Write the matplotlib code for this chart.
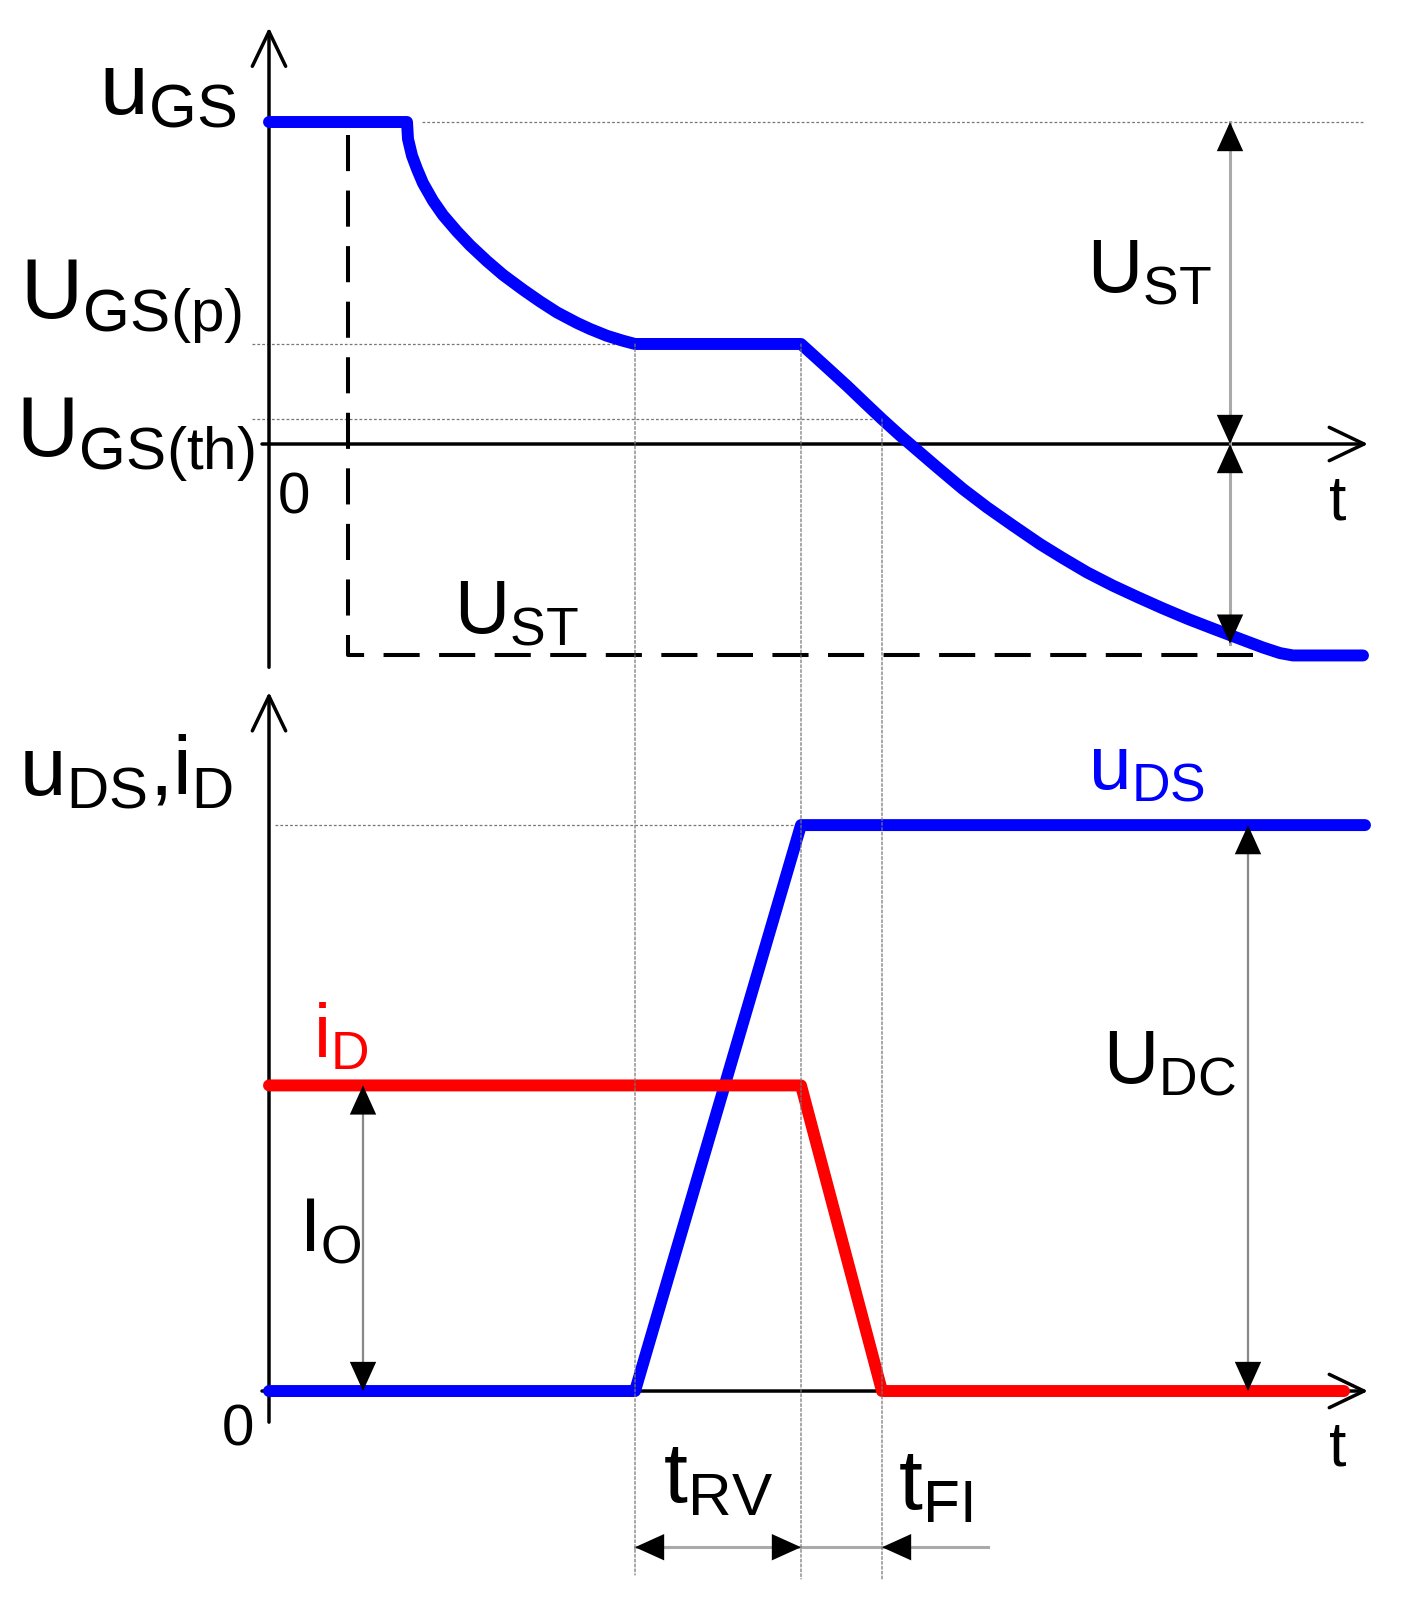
import matplotlib
matplotlib.use("Agg")
import matplotlib.pyplot as plt
from matplotlib.patches import ConnectionPatch

plt.rcParams['font.family'] = 'Liberation Sans'
plt.rcParams['mathtext.fontset'] = 'custom'
plt.rcParams['mathtext.rm'] = 'Liberation Sans'
plt.rcParams['mathtext.it'] = 'Liberation Sans'
plt.rcParams['mathtext.default'] = 'regular'
plt.rcParams['lines.scale_dashes'] = False

# key times (arbitrary units) and levels
t_step = 7.9      # gate command steps down
t_rv0 = 36.6      # start of plateau / voltage rise
t_rv1 = 53.2      # end of plateau / current fall starts
t_fi1 = 61.3      # current reaches zero (uGS = UGS(th))
t_end = 109.9

U_high = 15.0
U_p = 4.66
U_th = 1.16
U_low = -9.85

# gate-source voltage
t_gs = [0, 13.8, 13.9, 14.3, 14.8, 15.4, 16.4, 17.4, 18.8, 20.1, 21.8, 23.4,
        25.4, 27.1, 28.8, 30.8, 32.1, 33.8, 35.4, 36.6,
        53.2, 55.4, 57.8, 59.8, 61.3, 63.1, 64.4, 66.8, 69.4, 71.8, 74.4,
        77.1, 79.4, 81.8, 84.4, 86.9, 89.4, 91.9, 94.4, 96.1, 97.8, 99.4,
        101.1, 102.4, 109.4]
u_gs = [15.0, 15.0, 14.21, 13.43, 12.81, 12.15, 11.33, 10.66, 9.90, 9.26,
        8.52, 7.88, 7.19, 6.64, 6.13, 5.64, 5.36, 5.04, 4.81, 4.66,
        4.66, 3.73, 2.71, 1.82, 1.16, 0.40, -0.12, -1.08, -2.10, -2.95, -3.80,
        -4.66, -5.32, -5.98, -6.60, -7.14, -7.66, -8.15, -8.60, -8.90, -9.20,
        -9.48, -9.74, -9.85, -9.85]

# drain-source voltage and drain current
U_DC = 100
I_O = 54
t_ds = [0, 36.6, 53.2, 109.6]
u_ds = [0, 0, 100, 100]
t_d = [0, 53.2, 61.3, 107.5]
i_d = [54, 54, 0, 0]

fig = plt.figure(figsize=(14.02, 16.15), dpi=100)
ax1 = fig.add_axes([0, 0.5789, 1, 0.4211])
ax2 = fig.add_axes([0, 0, 1, 0.5789])
ax1.set_xlim(-26.9, 113.3)
ax1.set_ylim(-10.95, 20.73)
ax2.set_xlim(-26.9, 113.3)
ax2.set_ylim(-39.4, 125.8)
for a in (ax1, ax2):
    a.set_axis_off()

dot = dict(color='#777777', lw=0.9, ls=(0, (2, 1.5)), zorder=1)
blue = '#0000ff'
red = '#ff0000'


def axis_arrow(ax, p0, p1):
    ax.annotate('', xy=p1, xytext=p0,
                arrowprops=dict(arrowstyle='->,head_length=25,head_width=12',
                                mutation_scale=1, lw=2.5, color='k',
                                shrinkA=0, shrinkB=0), zorder=2)


def head(ax, tip, tail):
    ax.annotate('', xy=tip, xytext=tail,
                arrowprops=dict(arrowstyle='-|>,head_length=21,head_width=9.5',
                                mutation_scale=1, lw=0, color='k',
                                shrinkA=0, shrinkB=0), zorder=5)


# ---------------- top: uGS ----------------
ax1.plot([15.3, 109.6], [U_high, U_high], **dot)
ax1.plot([-1.7, t_rv0], [U_p, U_p], **dot)
ax1.plot([-1.7, t_fi1], [U_th, U_th], **dot)

ax1.plot([t_step, t_step, 102.0], [14.4, U_low, U_low], color='k', lw=2.9,
         ls=(0, (26, 14)), zorder=1.5)

axis_arrow(ax1, (0, -10.4), (0, 19.4))
axis_arrow(ax1, (-0.7, 0), (t_end, 0))

# UST dimension
x_st = 96.1
ax1.plot([x_st, x_st], [U_high, -9.3], color='#aaaaaa', lw=2.2, zorder=3)
head(ax1, (x_st, U_high), (x_st, 0))
head(ax1, (x_st, 0), (x_st, U_high))
head(ax1, (x_st, 0), (x_st, -9.3))
head(ax1, (x_st, -9.3), (x_st, 0))

ax1.plot(t_gs, u_gs, color=blue, lw=8.6, solid_capstyle='round',
         solid_joinstyle='round', zorder=4)

ax1.text(-3.3, 15.37, r'u$_{GS}$', fontsize=63, ha='right', va='baseline')
ax1.text(-2.7, 5.96, r'U$_{GS(p)}$', fontsize=62, ha='right', va='baseline')
ax1.text(-1.4, -0.47, r'U$_{GS(th)}$', fontsize=62, ha='right', va='baseline')
ax1.text(2.5, -3.17, '0', fontsize=42, ha='center', va='baseline')
ax1.text(106.9, -3.49, 't', fontsize=45, ha='center', va='baseline')
ax1.text(81.8, 7.1, r'U$_{ST}$', fontsize=55, ha='left', va='baseline')
ax1.text(18.5, -8.8, r'U$_{ST}$', fontsize=55, ha='left', va='baseline')

# ---------------- bottom: uDS, iD ----------------
ax2.plot([0.6, t_rv1], [U_DC, U_DC], **dot)

axis_arrow(ax2, (0, -5.5), (0, 123.5))
axis_arrow(ax2, (-0.7, 0), (t_end, 0))

# vertical dotted lines running through both plots
for tt, lev, yb in [(t_rv0, U_p, -32.5), (t_rv1, U_p, -33.2), (t_fi1, U_th, -33.2)]:
    con = ConnectionPatch(xyA=(tt, lev), coordsA=ax1.transData,
                          xyB=(tt, yb), coordsB=ax2.transData,
                          color='#777777', lw=0.9, ls=(0, (2, 1.5)), zorder=1)
    fig.add_artist(con)

# IO and UDC dimensions
x_io = 9.4
ax2.plot([x_io, x_io], [0, I_O], color='#888888', lw=1.6, zorder=3)
head(ax2, (x_io, I_O), (x_io, 0))
head(ax2, (x_io, 0), (x_io, I_O))
x_dc = 97.9
ax2.plot([x_dc, x_dc], [0, U_DC], color='#888888', lw=1.6, zorder=3)
head(ax2, (x_dc, U_DC), (x_dc, 0))
head(ax2, (x_dc, 0), (x_dc, U_DC))

# tRV / tFI dimension
y_t = -27.6
ax2.plot([t_rv0, 71.9], [y_t, y_t], color='#aaaaaa', lw=2.2, zorder=3)
head(ax2, (t_rv0, y_t), (t_rv1, y_t))
head(ax2, (t_rv1, y_t), (t_rv0, y_t))
head(ax2, (t_fi1, y_t), (71.9, y_t))

ax2.plot(t_ds, u_ds, color=blue, lw=8.6, solid_capstyle='round',
         solid_joinstyle='round', zorder=4)
ax2.plot(t_d, i_d, color=red, lw=8.6, solid_capstyle='round',
         solid_joinstyle='round', zorder=4.5)

ax2.text(-3.6, 105.5, r'u$_{DS}$,i$_{D}$', fontsize=60, ha='right', va='baseline')
ax2.text(4.4, 59.2, r'i$_{D}$', fontsize=55, ha='left', va='baseline', color=red)
ax2.text(81.9, 106.4, r'u$_{DS}$', fontsize=55, ha='left', va='baseline', color=blue)
ax2.text(83.4, 54.6, r'U$_{DC}$', fontsize=55, ha='left', va='baseline')
ax2.text(3.0, 24.9, r'I$_{O}$', fontsize=55, ha='left', va='baseline')
ax2.text(-3.1, -9.4, '0', fontsize=42, ha='center', va='baseline')
ax2.text(106.9, -13.0, 't', fontsize=45, ha='center', va='baseline')
ax2.text(39.4, -19.4, r't$_{RV}$', fontsize=62, ha='left', va='baseline')
ax2.text(62.9, -20.8, r't$_{FI}$', fontsize=62, ha='left', va='baseline')

fig.savefig('out.png', dpi=100)
